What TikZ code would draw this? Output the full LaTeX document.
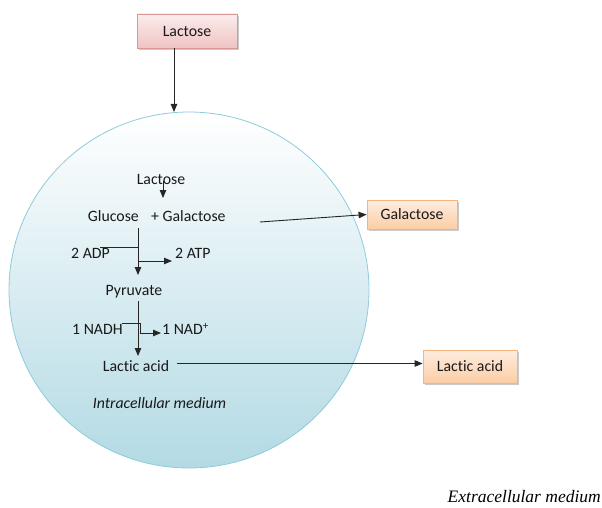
\documentclass[tikz,border=0pt]{standalone}
\usepackage{fontspec}
\setmainfont{Carlito}[Ligatures=NoCommon]
\newfontfamily\timesfont{Liberation Serif}
\usetikzlibrary{arrows.meta,shadows}
\definecolor{pinkedge}{HTML}{D99694}
\definecolor{pinktop}{HTML}{FBEDED}
\definecolor{pinkbot}{HTML}{EFC3C2}
\definecolor{orgedge}{HTML}{F9B27A}
\definecolor{orgtop}{HTML}{FEEDE0}
\definecolor{orgbot}{HTML}{FBCDA5}
\definecolor{celledge}{HTML}{8DCBDB}
\definecolor{cellbot}{HTML}{B3DAE4}
\begin{document}
\begin{tikzpicture}[x=1pt,y=-1pt,
  lbl/.style={font=\fontsize{15.8}{18}\selectfont, inner sep=0pt, text=black!90},
  arr/.style={-{Triangle[length=8pt,width=6.5pt]}, line width=0.9pt, draw=black!85},
  ln/.style={line width=0.9pt, draw=black!85},
  boxshadow/.style={drop shadow={shadow xshift=1.5pt, shadow yshift=-2pt, fill=black!35, opacity=0.6}},
  pinkbox/.style={lbl, draw=pinkedge, line width=0.8pt, top color=pinktop, bottom color=pinkbot, minimum width=100pt, minimum height=34pt, boxshadow},
  orgbox/.style={lbl, draw=orgedge, line width=0.8pt, top color=orgtop, bottom color=orgbot, boxshadow},
]
\useasboundingbox (0,0) rectangle (602,508);
% cell
\shade[top color=white, bottom color=cellbot, draw=celledge, line width=0.8pt]
  (189,290) ellipse [x radius=180, y radius=178];
% outside boxes
\node[pinkbox] (lac0) at (187,31) {Lactose};
\node[orgbox, minimum width=90pt, minimum height=29pt] (galbox) at (412,214.5) {Galactose};
\node[orgbox, minimum width=94pt, minimum height=33pt] (lacbox) at (470,366.5) {Lactic acid};
% inner labels
\node[lbl] (lac1) at (161,179) {Lactose};
\node[lbl, anchor=east] (glc) at (139,216) {Glucose};
\node[lbl, anchor=west] (gal) at (151,216) {+ Galactose};
\node[lbl, anchor=west] (adp) at (71,253) {2 ADP};
\node[lbl, anchor=west] (atp) at (175,253) {2 ATP};
\node[lbl] (pyr) at (134,292) {Pyruvate};
\node[lbl, anchor=west] (nadh) at (72,329) {1 NADH};
\node[lbl, anchor=west] (nad) at (162,329) {1 NAD\textsuperscript{+}};
\node[lbl] (lact) at (136,366) {Lactic acid};
\node[lbl, font=\fontsize{15.8}{18}\selectfont\itshape] (intra) at (159.5,403) {Intracellular medium};
\node[inner sep=0pt, anchor=east, font=\timesfont\fontsize{17.5}{20}\selectfont\itshape] (extra) at (601,497) {Extracellular medium};
% coordinates
\coordinate (top1) at (174,112);
\coordinate (l1a) at (163,181);
\coordinate (l1b) at (163,198);
\coordinate (g1) at (138,228);
\coordinate (g2) at (138,275);
\coordinate (a1) at (100,247);
\coordinate (a2) at (138,247);
\coordinate (a3) at (138,261);
\coordinate (a4) at (172,261);
\coordinate (p1) at (138,301);
\coordinate (p2) at (138,356);
\coordinate (n1) at (122,323);
\coordinate (n2) at (140,323);
\coordinate (n3) at (140,333);
\coordinate (n4) at (161,333);
\coordinate (galstart) at (260,222);
\coordinate (lacstart) at (177,363.5);
% connectors
\draw[arr] (lac0.south -| top1) -- (top1);
\draw[arr] (l1a) -- (l1b);
\draw[arr] (g1) -- (g2);
\draw[ln] (a1) -- (a2) -- (a3);
\draw[arr] (a3) -- (a4);
\draw[arr] (p1) -- (p2);
\draw[ln] (n1) -- (n2) -- (n3);
\draw[arr] (n3) -- (n4);
\draw[arr] (galstart) -- (galbox.west);
\draw[arr] (lacstart) -- (lacbox.west |- lacstart);
\end{tikzpicture}
\end{document}
